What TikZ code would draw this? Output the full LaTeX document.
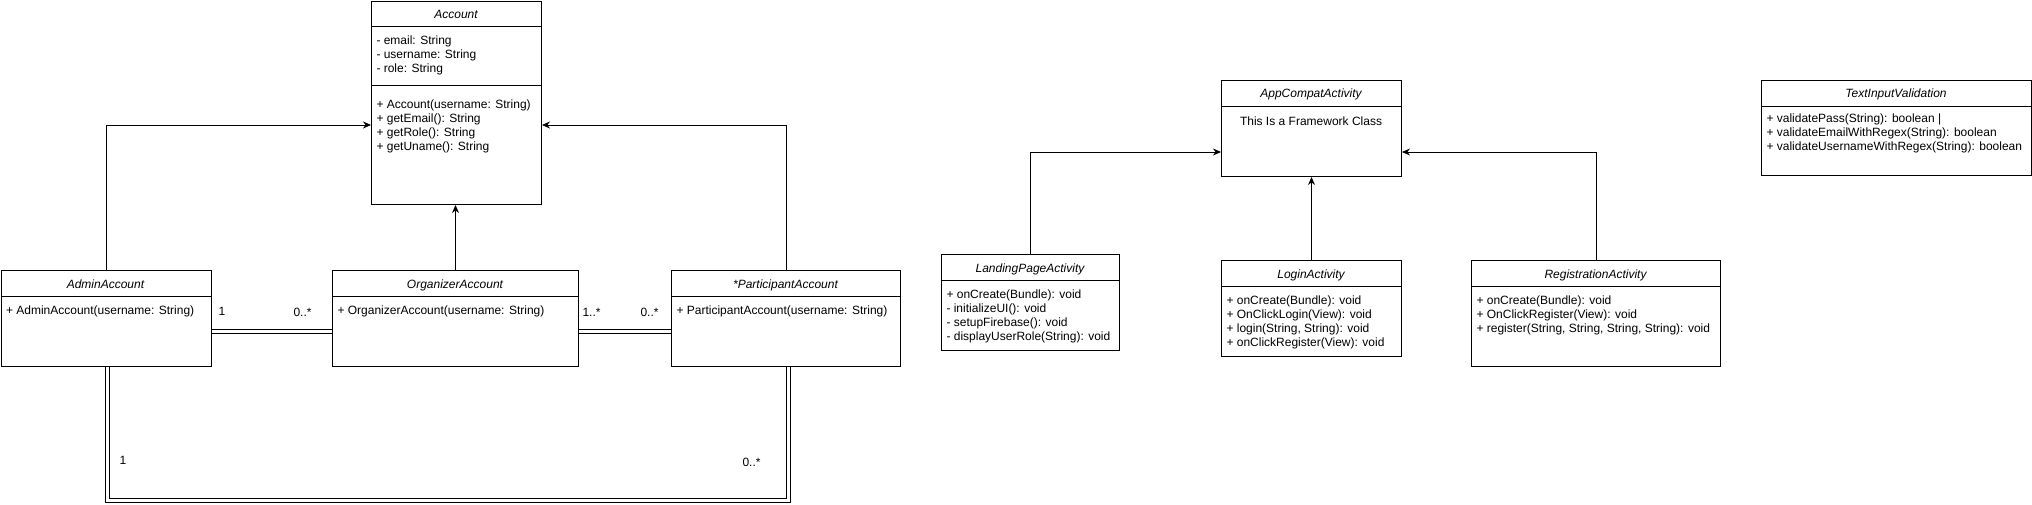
\documentclass[tikz,border=0pt]{standalone}
\usepackage{fontspec}
\setmainfont{Liberation Sans}
\usetikzlibrary{arrows.meta,calc}
\newcommand{\tamanho}{\fontsize{12}{14}\selectfont}

\begin{document}
\begin{tikzpicture}[x=1pt, y=-1pt, > = {Stealth[length=8pt,width=7pt]}, line width=1pt]
                \tikzstyle{classe}=[draw, anchor=north west, inner sep=0pt, line width=1pt]
                \tikzstyle{titulo}=[font=\tamanho\itshape, anchor=base, inner sep=0pt]
                \tikzstyle{membros}=[font=\tamanho, anchor=base west, align=left, inner sep=0pt]
                \tikzstyle{mult}=[font=\tamanho, anchor=base west, inner sep=0pt]
                \tikzstyle{heranca}=[->, line width=1pt]
                \tikzstyle{ligacao}=[double, double distance=3pt, line width=1pt]

                \useasboundingbox (0,0) rectangle (2032,504);

                    % Contas
                    \node[classe, minimum width=170pt, minimum height=203pt] (account) at (371,1) {};
                    \node[titulo] (accountT) at (456,18) {Account};
                    \draw (371,26) -- (541,26);
                    \node[membros] (accountA) at (376,72) {- email: String\\- username: String\\- role: String};
                    \draw (371,85) -- (541,85);
                    \node[membros] (accountM) at (376,150) {+ Account(username: String)\\+ getEmail(): String\\+ getRole(): String\\+ getUname(): String};

                    \node[classe, minimum width=210pt, minimum height=96pt] (admin) at (0.5,270) {};
                    \node[titulo] (adminT) at (105.5,288) {AdminAccount};
                    \draw (0.5,296) -- (210.5,296);
                    \node[membros] (adminM) at (5.5,314) {+ AdminAccount(username: String)};

                    \node[classe, minimum width=246pt, minimum height=96pt] (organizer) at (332,270) {};
                    \node[titulo] (organizerT) at (455,288) {OrganizerAccount};
                    \draw (332,296) -- (578,296);
                    \node[membros] (organizerM) at (337,314) {+ OrganizerAccount(username: String)};

                    \node[classe, minimum width=229pt, minimum height=96pt] (participant) at (671,270) {};
                    \node[titulo] (participantT) at (785.5,288) {*ParticipantAccount};
                    \draw (671,296) -- (900,296);
                    \node[membros] (participantM) at (676,314) {+ ParticipantAccount(username: String)};

                    % Atividades
                    \node[classe, minimum width=180pt, minimum height=96pt] (appcompat) at (1221,80) {};
                    \node[titulo] (appcompatT) at (1311,97) {AppCompatActivity};
                    \draw (1221,106) -- (1401,106);
                    \node[font=\tamanho, anchor=base, inner sep=0pt] (appcompatM) at (1311,125) {This Is a Framework Class};

                    \node[classe, minimum width=178pt, minimum height=96pt] (landing) at (941,254) {};
                    \node[titulo] (landingT) at (1030,272) {LandingPageActivity};
                    \draw (941,280) -- (1119,280);
                    \node[membros] (landingM) at (946,340) {+ onCreate(Bundle): void\\- initializeUI(): void\\- setupFirebase(): void\\- displayUserRole(String): void};

                    \node[classe, minimum width=180pt, minimum height=96pt] (login) at (1221,260) {};
                    \node[titulo] (loginT) at (1311,278) {LoginActivity};
                    \draw (1221,286) -- (1401,286);
                    \node[membros] (loginM) at (1226,346) {+ onCreate(Bundle): void\\+ OnClickLogin(View): void\\+ login(String, String): void\\+ onClickRegister(View): void};

                    \node[classe, minimum width=249pt, minimum height=106pt] (registration) at (1471,260) {};
                    \node[titulo] (registrationT) at (1595.5,278) {RegistrationActivity};
                    \draw (1471,286) -- (1720,286);
                    \node[membros] (registrationM) at (1476,332) {+ onCreate(Bundle): void\\+ OnClickRegister(View): void\\+ register(String, String, String, String): void};

                    \node[classe, minimum width=270pt, minimum height=95pt] (validation) at (1761,80) {};
                    \node[titulo] (validationT) at (1896,97) {TextInputValidation};
                    \draw (1761,106) -- (2031,106);
                    \node[membros] (validationM) at (1766,150) {+ validatePass(String): boolean |\\+ validateEmailWithRegex(String): boolean\\+ validateUsernameWithRegex(String): boolean};

                    % Heranca
                    \draw[heranca] (admin.north) |- ($(account.north west)+(0,124)$);
                    \draw[heranca] (organizer.north) -- (organizer.north |- account.south);
                    \draw[heranca] (participant.north) |- ($(account.north east)+(0,124)$);
                    \draw[heranca] (landing.north) |- ($(appcompat.north west)+(0,72)$);
                    \draw[heranca] (login.north) -- (appcompat.south);
                    \draw[heranca] (registration.north) |- ($(appcompat.north east)+(0,72)$);

                    % Associacoes
                    \draw[ligacao] ($(admin.north east)+(0,61)$) -- ($(organizer.north west)+(0,61)$);
                    \draw[ligacao] ($(organizer.north east)+(0,61)$) -- ($(participant.north west)+(0,61)$);
                    \draw[ligacao] ($(admin.south)+(1.5,0)$) -- ++(0,133) -| ($(participant.south)+(2.5,0)$);

                    \node[mult] (m1) at (218,315) {1};
                    \node[mult] (m2) at (293,316) {0..*};
                    \node[mult] (m3) at (582,316) {1..*};
                    \node[mult] (m4) at (640,316) {0..*};
                    \node[mult] (m5) at (119,464) {1};
                    \node[mult] (m6) at (742,466) {0..*};

            \end{tikzpicture}
\end{document}
